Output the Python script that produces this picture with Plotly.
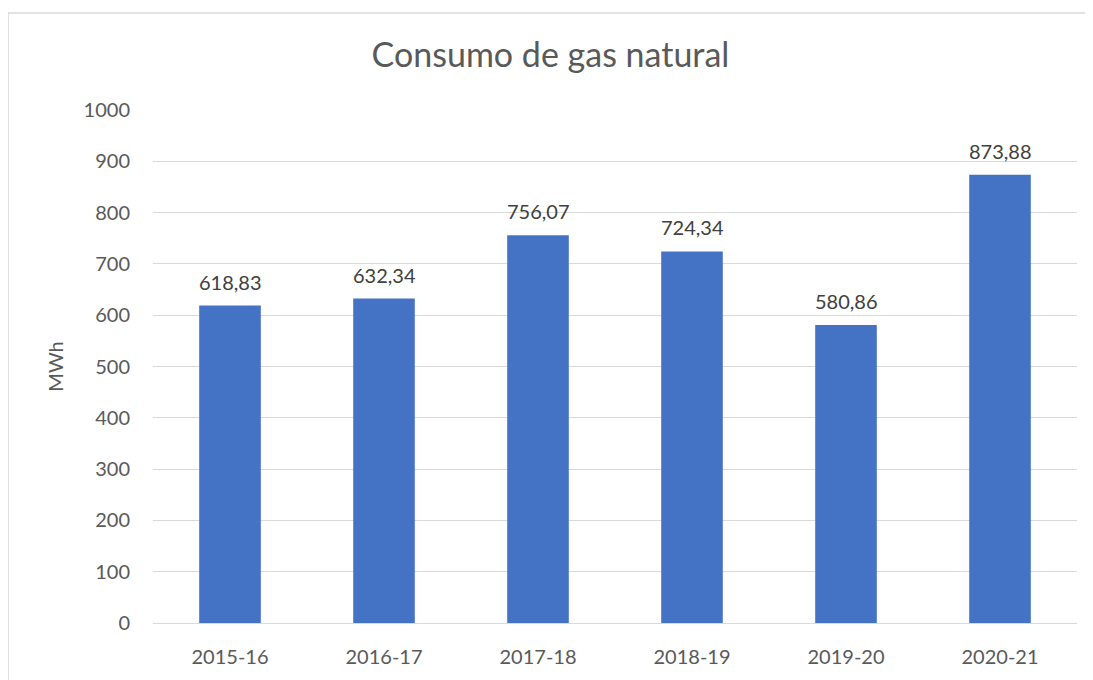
import plotly.graph_objects as go

categories = ["2015-16", "2016-17", "2017-18", "2018-19", "2019-20", "2020-21"]
values = [618.83, 632.34, 756.07, 724.34, 580.86, 873.88]
labels = ["618,83", "632,34", "756,07", "724,34", "580,86", "873,88"]
y_ticks = list(range(0, 1001, 100))

font_family = "Lato, Open Sans, sans-serif"

fig = go.Figure(go.Bar(
    x=categories, y=values,
    marker=dict(color="#4472C4", line=dict(width=0)),
    hoverinfo="x+y",
))

annotations = [
    dict(x=c, y=v, text=t, showarrow=False, xref="x", yref="y",
         yanchor="middle", yshift=24,
         font=dict(family=font_family, size=20, color="#404040"))
    for c, v, t in zip(categories, values, labels)
]

# page body has an 8px margin, so the figure is sized to fit inside the 1093x680 window
W, H = 1085, 672
L, R, T, B = 145, 16, 102, 55
pw, ph = W - L - R, H - T - B

fig.update_layout(
    width=W, height=H,
    margin=dict(l=L, r=R, t=T, b=B),
    paper_bgcolor="white", plot_bgcolor="white",
    bargap=0.6,
    showlegend=False,
    annotations=annotations,
    title=dict(text="Consumo de gas natural", x=0.5, xanchor="center",
               y=1 - 47 / H, yanchor="middle",
               font=dict(family=font_family, size=34, color="#595959")),
    xaxis=dict(showgrid=False, showline=True, linecolor="#d9d9d9", linewidth=1,
               tickfont=dict(family=font_family, size=20, color="#595959"),
               ticks="", ticklabelstandoff=16),
    yaxis=dict(range=[0, 1000], tickvals=y_ticks, showgrid=True, gridcolor="#d9d9d9", gridwidth=1,
               zeroline=False, showline=False, ticks="",
               tickfont=dict(family=font_family, size=20, color="#595959"),
               ticklabelstandoff=22,
               title=dict(text="MWh", font=dict(family=font_family, size=20, color="#595959"), standoff=14)),
    shapes=[dict(type="rect", xref="paper", yref="paper",
                 x0=(0 - L) / pw, x1=(W + 20 - L) / pw,
                 y0=-(B + 20) / ph, y1=(H - B - 4.5) / ph,
                 line=dict(color="#d9d9d9", width=1.5), fillcolor="rgba(0,0,0,0)", layer="below")],
)

fig.write_html("out.html")
